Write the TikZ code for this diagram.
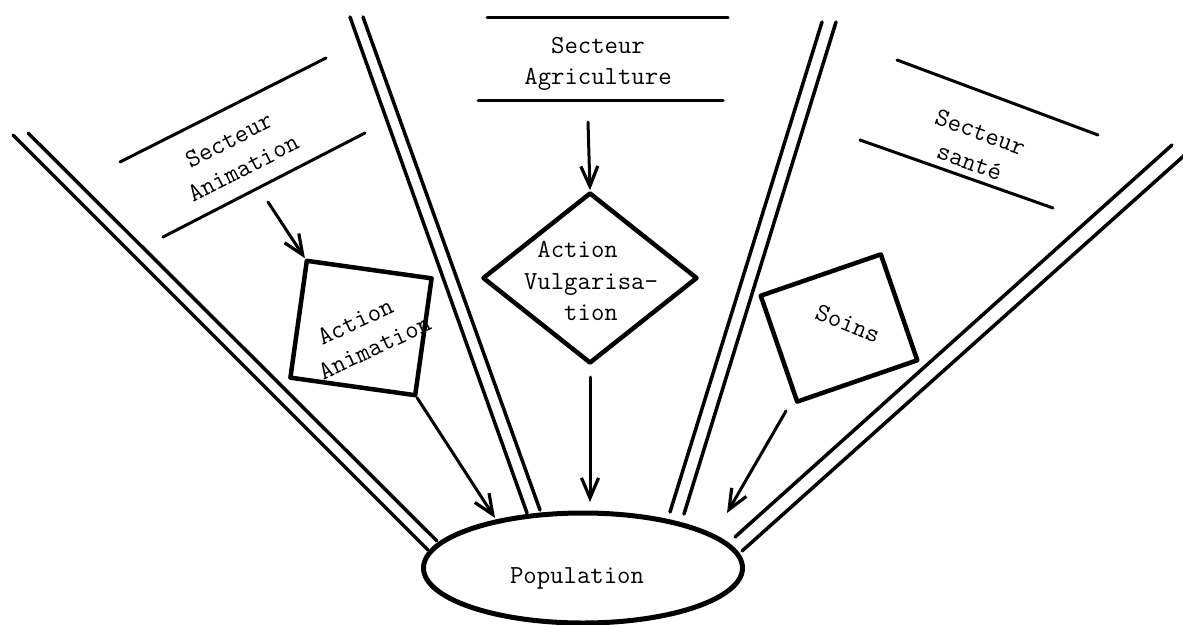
\documentclass[tikz,border=0pt]{standalone}
\usepackage{fontspec}
\usetikzlibrary{shapes.geometric,arrows.meta}
\begin{document}
\begin{tikzpicture}[x=1pt,y=-1pt,
  ray/.style={line width=3.5pt,line cap=round},
  bar/.style={line width=3pt,line cap=round},
  arr/.style={line width=3pt,line cap=round,-{Straight Barb[length=20pt,width=17pt,line width=3.2pt]}},
  box/.style={draw,line width=4.5pt,inner sep=0pt,line join=round},
  txt/.style={font=\ttfamily\fontsize{26}{31.5}\selectfont\addfontfeatures{LetterSpace=4},inner sep=0pt}]
\useasboundingbox (0,0) rectangle (1183,624);
% Population
\node[box,ellipse,line width=5pt,minimum width=319pt,minimum height=110pt] (pop) at (583,568) {};
\node[txt] (poptext) at (577,578) {Population};
% rays
\coordinate (r1a) at (13,135);   \coordinate (r1A) at (428,550);
\coordinate (r1b) at (28,133);   \coordinate (r1B) at (437,541);
\coordinate (r2a) at (350,17);   \coordinate (r2A) at (527,513);
\coordinate (r2b) at (363,17);   \coordinate (r2B) at (540,510);
\coordinate (r3a) at (822,22);   \coordinate (r3A) at (670,512);
\coordinate (r3b) at (836,22);   \coordinate (r3B) at (684,514);
\coordinate (r4a) at (1172,145); \coordinate (r4A) at (735,537);
\coordinate (r4b) at (1187,153); \coordinate (r4B) at (742,551);
\foreach \r in {r1,r2,r3,r4}{
  \draw[ray] (\r a) -- (\r A);
  \draw[ray] (\r b) -- (\r B);
}
% sector label lines
\coordinate (s1a) at (120,162); \coordinate (s1b) at (326,58);
\coordinate (s1c) at (163,237); \coordinate (s1d) at (365,133);
\coordinate (s2a) at (487,17);  \coordinate (s2b) at (728,17);
\coordinate (s2c) at (478,100); \coordinate (s2d) at (723,100);
\coordinate (s3a) at (897,60);  \coordinate (s3b) at (1098,135);
\coordinate (s3c) at (860,140); \coordinate (s3d) at (1053,208);
\foreach \s in {s1,s2,s3}{
  \draw[bar] (\s a) -- (\s b);
  \draw[bar] (\s c) -- (\s d);
}
% sector labels
\node[txt,rotate=27,align=center] (secanim) at (236,154) {Secteur\\Animation};
\node[txt,align=center] (secagri) at (598,64) {Secteur\\Agriculture};
\node[txt,rotate=-20,align=left] (secsante) at (975,147) {Secteur\\\hphantom{s}santé};
% action boxes
\node[box,minimum width=126pt,minimum height=118pt,rotate=-8] (animbox) at (361,328) {};
\node[txt,rotate=25,align=left] (animtext) at (368,333) {\hphantom{A}Action\\Animation};
\node[box,diamond,minimum width=215pt,minimum height=171pt] (vulg) at (590,278) {};
\node[txt,align=left] (vulgtext) at (591,281) {\hphantom{A}Action\\Vulgarisa-\\\hphantom{AAA}tion};
\node[box,minimum width=127pt,minimum height=112pt,rotate=19] (soins) at (839,328) {};
\node[txt,rotate=-22] (soinstext) at (848,324) {Soins};
% arrows
\coordinate (a1) at (268,202);
\coordinate (a2) at (588,122);
\coordinate (t1) at (495,518);
\coordinate (b3) at (590,377);
\coordinate (t3) at (590,502);
\coordinate (b4) at (786,411);
\coordinate (t4) at (727,513);
\draw[arr] (a1) -- (animbox.north west);
\draw[arr] (a2) -- (vulg.north);
\draw[arr] (animbox.south east) -- (t1);
\draw[arr] (b3) -- (t3);
\draw[arr] (b4) -- (t4);
\end{tikzpicture}
\end{document}
